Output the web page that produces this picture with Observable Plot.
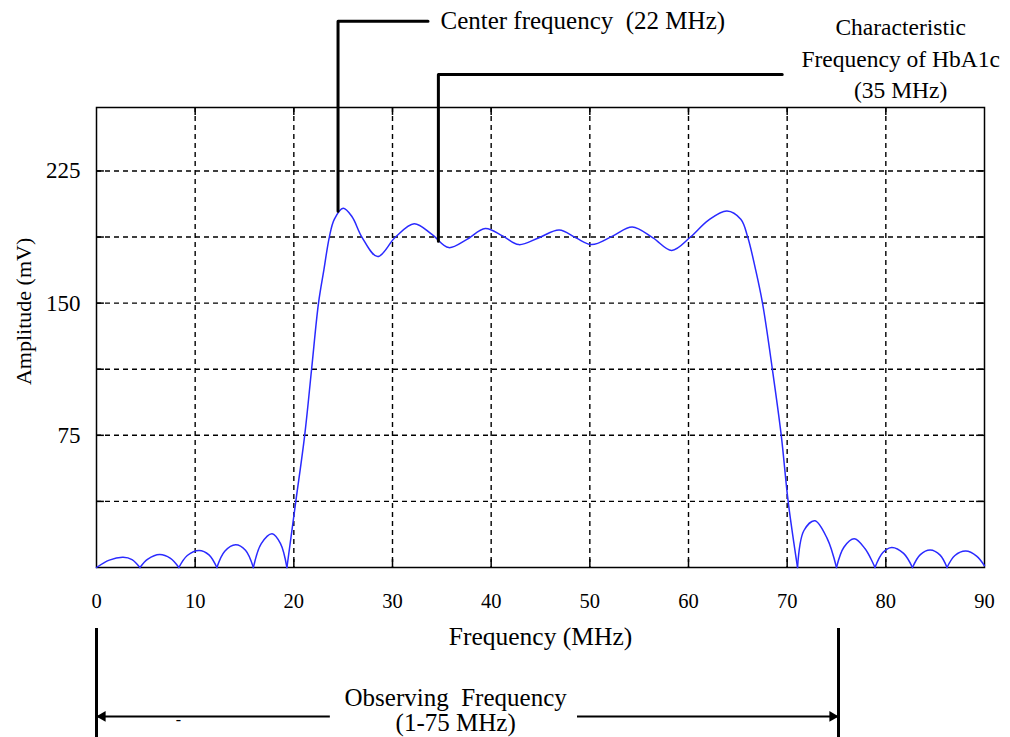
<!DOCTYPE html>
<html><head><meta charset="utf-8">
<script src="https://cdn.jsdelivr.net/npm/d3@7"></script>
<script src="https://cdn.jsdelivr.net/npm/@observablehq/plot@0.6"></script>
<style>body{margin:0;background:#fff}svg{display:block}</style>
</head><body><div id="chart"></div>
<script>
// Frequency (MHz) and amplitude (mV)
const freq = [0,1.3,2.7,3.6,4.4, 5.2,6.4,7.5,8.35, 9.2,10.4,11.4,12.2, 13.0,14.1,15.1,15.9, 16.7,17.8,18.65,19.3,
  20.2,21.1,21.8,22.5,23.05,23.6,24.1,25.0,25.9,26.9,28.5,30.3,32.2,34.0,35.7,37.5,39.4,41.2,42.8,44.8,46.9,48.6,50.2,52.3,54.3,56.4,58.3,60.2,62.0,63.9,65.3,66.0,66.8,67.5,68.5,69.4,70.1,71.05,
  71.7,72.8,74.05,75.0, 75.75,76.8,77.9,78.9, 79.7,80.6,81.8,82.7, 83.5,84.5,85.5,86.2, 87.0,88.1,89.2,90];
const amp = [0,4.2,5.8,4.5,0, 4.8,7.4,5.2,0, 6.8,9.7,7.2,0, 9.2,12.9,9.8,0, 13.5,19.1,13.5,0,
  37.5,75,112.5,150,169,187.5,197.5,203.8,199,187.5,176.4,187.5,195.1,189,181.5,186,192.3,188,183.2,187,191.5,187,183.2,188,193.2,187,179.9,187.5,197,202.3,197.6,187.5,169,150,112.5,75,37.5,0,
  21,26.5,16.5,0, 11.5,16.3,10.6,0, 8.5,11.4,8,0, 7.3,9.9,7.0,0, 6.8,9.3,6.5,1];

const xTicks = [0,10,20,30,40,50,60,70,80,90];
const xGrid = [10,20,30,40,50,60,70,80];
const yTicks = [75,150,225];
const yGrid = [37.5,75,112.5,150,187.5,225];
const xDomain = [0,90];
const yDomain = [0,261];

// annotation texts and anchor positions (in MHz / mV units)
const centerLabel = "Center frequency  (22 MHz)";
const centerBracket = [[24.48,202.2],[24.48,310.0],[33.6,310.0]];
const centerText = [34.86,310.2];
const hbLabel = "Characteristic\nFrequency of HbA1c\n(35 MHz)";
const hbBracket = [[34.65,185.1],[34.65,279.7],[69.5,279.7]];
const hbText = [81.5,289.9];
const xLabel = "Frequency (MHz)";
const xLabelPos = [45,-39.1];
const yLabel = "Amplitude (mV)";
const yLabelPos = [-7.4,145.3];
const obsLabel = "Observing  Frequency\n(1-75 MHz)";
const obsText = [36.4,-80.9];
const obsEnds = [0,75.2];
const obsBarY = [-34.6,-96.5];
const obsArrowY = -84.5;
const obsGap = [23.7,48.75];
const strayDash = [8.3,-86.2];

// split the curve into lobes at the zero crossings (cusps)
const rows = [];
let seg = 0;
freq.forEach((f,i) => {
  rows.push({f, a: amp[i], seg});
  if (amp[i] === 0 && i > 0 && i < freq.length - 1) { seg++; rows.push({f, a: amp[i], seg}); }
});

const font = "'Liberation Serif','Times New Roman',serif";
const pt = p => ({x: p[0], y: p[1]});

const chart = Plot.plot({
  width: 1010, height: 737,
  marginLeft: 96, marginRight: 26, marginTop: 107, marginBottom: 170,
  style: {fontFamily: font, color: "#000", background: "#fff", overflow: "visible"},
  x: {domain: xDomain, axis: null},
  y: {domain: yDomain, axis: null},
  marks: [
    Plot.ruleX(xGrid, {stroke: "#000", strokeWidth: 1.4, strokeDasharray: "5,4"}),
    Plot.ruleY(yGrid, {stroke: "#000", strokeWidth: 1.4, strokeDasharray: "5,4"}),
    // small inward ticks
    Plot.ruleX(xGrid, {y1: 0, y2: 4.5, stroke: "#000", strokeWidth: 1.5}),
    Plot.ruleX(xGrid, {y1: yDomain[1]-4.5, y2: yDomain[1], stroke: "#000", strokeWidth: 1.5}),
    Plot.ruleY(yGrid, {x1: 0, x2: 0.8, stroke: "#000", strokeWidth: 1.5}),
    Plot.ruleY(yGrid, {x1: xDomain[1]-0.8, x2: xDomain[1], stroke: "#000", strokeWidth: 1.5}),
    Plot.frame({stroke: "#000", strokeWidth: 1.5}),
    Plot.line(rows, {x: "f", y: "a", z: "seg", curve: "catmull-rom", stroke: "#2a2aff", strokeWidth: 1.5}),
    Plot.axisX(xTicks, {tickSize: 0, tickPadding: 26, fontSize: 20.5, label: null}),
    Plot.axisY(yTicks, {tickSize: 0, tickPadding: 16, fontSize: 23, label: null}),
    // annotation brackets
    Plot.line(centerBracket.map(pt), {x: "x", y: "y", stroke: "#000", strokeWidth: 3}),
    Plot.line(hbBracket.map(pt), {x: "x", y: "y", stroke: "#000", strokeWidth: 3}),
    Plot.text([centerLabel], {x: centerText[0], y: centerText[1], textAnchor: "start", fontSize: 25, fill: "#000"}),
    Plot.text([hbLabel], {x: hbText[0], y: hbText[1], textAnchor: "middle", fontSize: 23.5, lineHeight: 1.32, fill: "#000"}),
    Plot.text([xLabel], {x: xLabelPos[0], y: xLabelPos[1], fontSize: 25.5, fill: "#000"}),
    Plot.text([yLabel], {x: yLabelPos[0], y: yLabelPos[1], rotate: -90, fontSize: 22, fill: "#000"}),
    // observing frequency range
    Plot.ruleX(obsEnds, {y1: obsBarY[0], y2: obsBarY[1], stroke: "#000", strokeWidth: 3}),
    Plot.ruleY([obsArrowY], {x1: obsEnds[0], x2: obsGap[0], stroke: "#000", strokeWidth: 2}),
    Plot.ruleY([obsArrowY], {x1: obsGap[1], x2: obsEnds[1], stroke: "#000", strokeWidth: 2}),
    Plot.dot([obsEnds[0]], {x: d => d, y: obsArrowY, symbol: "triangle", r: 4, rotate: -90, fill: "#000", stroke: null, dx: 6}),
    Plot.dot([obsEnds[1]], {x: d => d, y: obsArrowY, symbol: "triangle", r: 4, rotate: 90, fill: "#000", stroke: null, dx: -6}),
    Plot.text([obsLabel], {x: obsText[0], y: obsText[1], fontSize: 25, lineHeight: 1.0, fill: "#000"}),
    Plot.text(["-"], {x: strayDash[0], y: strayDash[1], fontSize: 16, fill: "#000"})
  ]
});
document.getElementById("chart").appendChild(chart);
</script>
</body></html>
